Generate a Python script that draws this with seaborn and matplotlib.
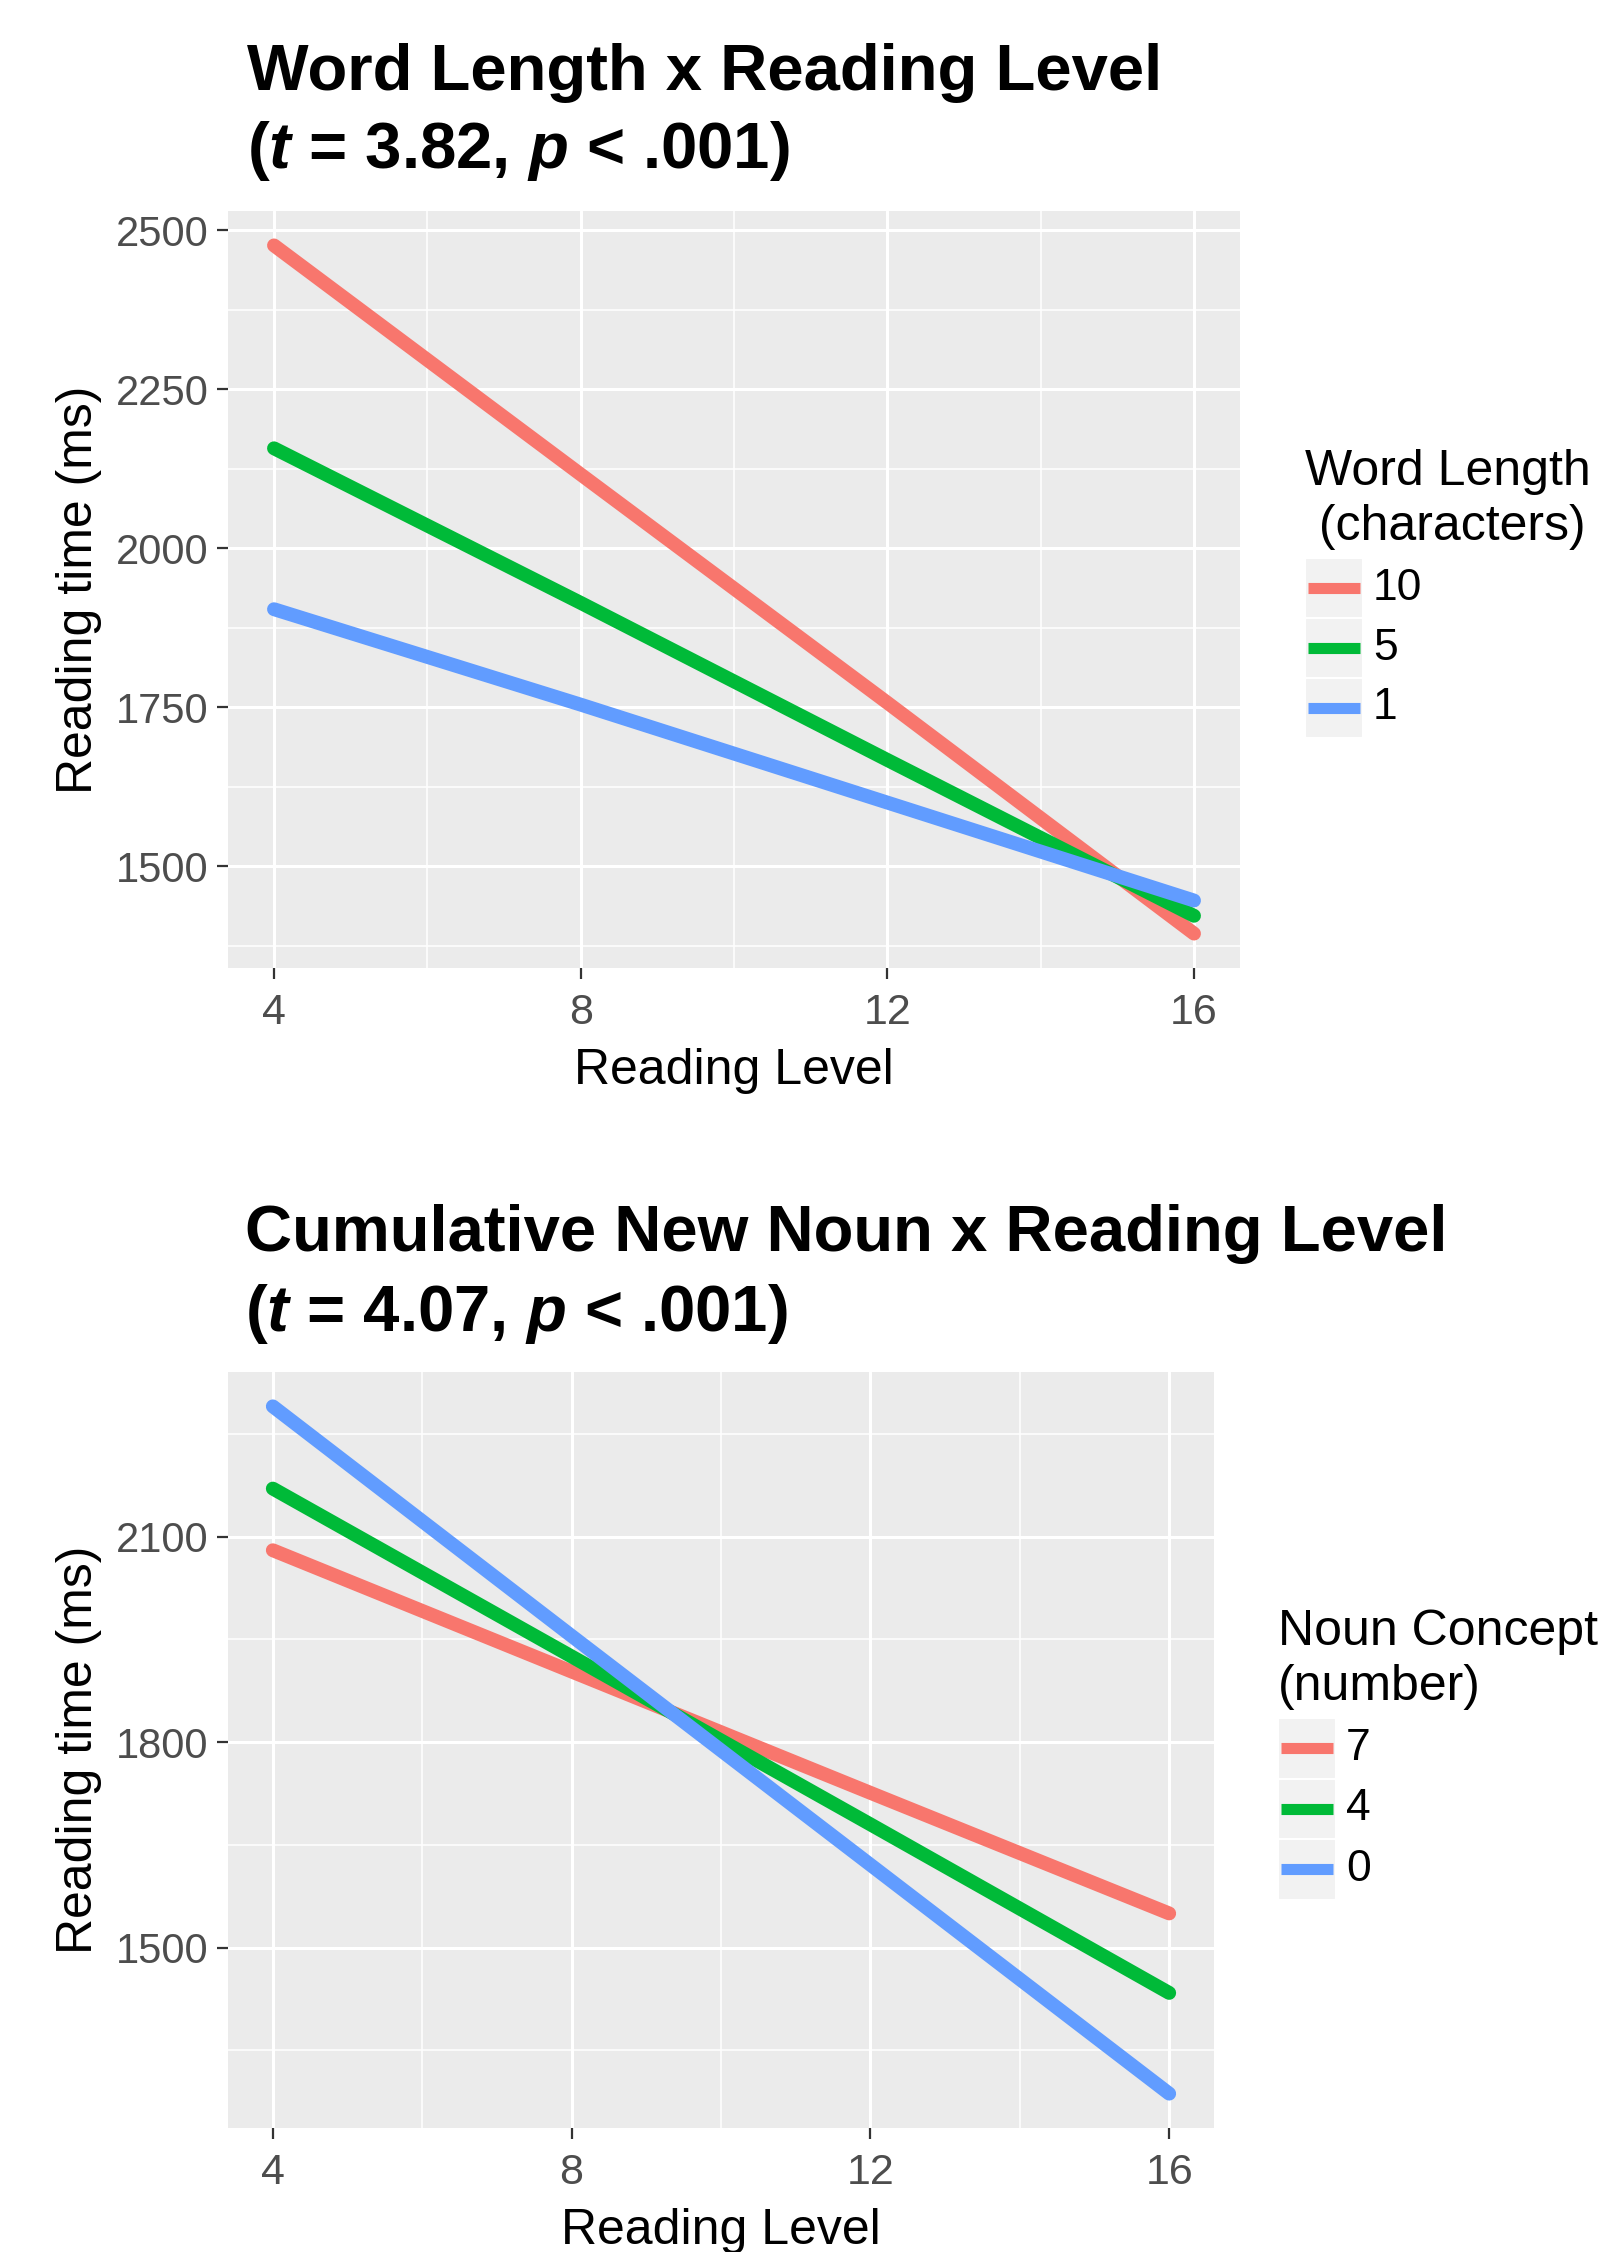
import pandas as pd
import numpy as np
import matplotlib
matplotlib.use('Agg')
import matplotlib.pyplot as plt
import seaborn as sns
from matplotlib.ticker import MultipleLocator
from matplotlib.patches import Rectangle
from matplotlib.lines import Line2D

# values (reading time in ms at reading level 4, 8, 12, 16)
levels = [4, 8, 12, 16]

wl_groups = ['10', '5', '1']
wl_10 = [2476, 2116, 1757, 1394]
wl_5 = [2157, 1914, 1667, 1422]
wl_1 = [1904, 1754, 1600, 1446]

nc_groups = ['7', '4', '0']
nc_7 = [2080, 1903, 1726, 1550]
nc_4 = [2170, 1925, 1680, 1434]
nc_0 = [2290, 1955, 1621, 1287]

colors = ['#F8766D', '#00BA38', '#619CFF']

W, H = 1612, 2252

sns.set_style('darkgrid', {'axes.facecolor': '#EBEBEB', 'grid.color': 'white',
                           'text.color': 'black', 'axes.labelcolor': 'black'})
plt.rcParams['font.family'] = ['Liberation Sans', 'DejaVu Sans']
plt.rcParams['mathtext.fontset'] = 'custom'
plt.rcParams['mathtext.it'] = 'Liberation Sans:italic:bold'
plt.rcParams['mathtext.rm'] = 'Liberation Sans:bold'

fig = plt.figure(figsize=(W / 100, H / 100), dpi=100)


def fx(px):
    return px / W


def fy(py):
    return 1 - py / H


def make_df(groups, series):
    rows = []
    for g, vals in zip(groups, series):
        for lv, v in zip(levels, vals):
            rows.append({'level': lv, 'rt': v, 'group': g})
    return pd.DataFrame(rows)


def panel(box, df, groups, ymaj, title1, title2, tx, tb1, tb2):
    l, t, r, b = box
    ax = fig.add_axes([fx(l), fy(b), fx(r - l), (b - t) / H])
    sns.lineplot(data=df, x='level', y='rt', hue='group', hue_order=groups,
                 palette=colors, linewidth=10, legend=False, ax=ax)
    lo, hi = df['rt'].min(), df['rt'].max()
    pad = (hi - lo) * 0.05
    ax.set_ylim(lo - pad, hi + pad)
    ax.set_xlim(3.4, 16.6)
    ax.xaxis.set_major_locator(MultipleLocator(4))
    ax.xaxis.set_minor_locator(MultipleLocator(2))
    ax.yaxis.set_major_locator(MultipleLocator(ymaj))
    ax.yaxis.set_minor_locator(MultipleLocator(ymaj / 2))
    ax.grid(which='major', color='white', linewidth=2.2)
    ax.grid(which='minor', color='white', linewidth=1.1)
    ax.tick_params(which='major', length=8, width=1.6, color='#333333',
                   labelsize=30, labelcolor='#4D4D4D', pad=6, bottom=True, left=True)
    ax.tick_params(axis='x', which='major', pad=10, labelsize=31)
    ax.tick_params(which='minor', length=0)
    for s in ax.spines.values():
        s.set_visible(False)
    ax.set_xlabel('Reading Level', fontsize=36, color='black')
    ax.set_ylabel('Reading time (ms)', fontsize=36, color='black')
    ax.xaxis.set_label_coords(0.5, -80 / (b - t))
    ax.yaxis.set_label_coords(-(226 - 100) / (r - l), 0.5)
    fig.text(fx(tx), fy(tb1), title1, fontsize=47, fontweight='bold', va='baseline', color='black')
    fig.text(fx(tx), fy(tb2), title2, fontsize=47, fontweight='bold', va='baseline', color='black')
    return ax


def legend(x, base1, base2, line1, line2, key_top, key_h, labels):
    fig.text(fx(x), fy(base1), line1, fontsize=36, va='baseline', color='black')
    fig.text(fx(x), fy(base2), line2, fontsize=36, va='baseline', color='black')
    for i, (lab, c) in enumerate(zip(labels, colors)):
        top = key_top + i * key_h
        fig.patches.append(Rectangle((fx(x), fy(top + key_h)), 58 / W, key_h / H,
                                     transform=fig.transFigure, facecolor='#F2F2F2',
                                     edgecolor='white', linewidth=1.5))
        cy = fy(top + key_h / 2)
        fig.lines.append(Line2D([fx(x + 3), fx(x + 55)], [cy, cy], color=c,
                                linewidth=8, transform=fig.transFigure,
                                solid_capstyle='butt'))
        fig.text(fx(x + 68), cy, lab, fontsize=32, va='center', color='black')


df1 = make_df(wl_groups, [wl_10, wl_5, wl_1])
df2 = make_df(nc_groups, [nc_7, nc_4, nc_0])

panel((228, 211, 1240, 968), df1, wl_groups, 250,
      'Word Length x Reading Level', r'($t$ = 3.82, $p$ < .001)', 247, 90, 168)
panel((228, 1372, 1214, 2128), df2, nc_groups, 300,
      'Cumulative New Noun x Reading Level', r'($t$ = 4.07, $p$ < .001)', 245, 1251, 1331)

legend(1305, 485, 540, 'Word Length', ' (characters)', 558, 60, wl_groups)
legend(1278, 1645, 1700, 'Noun Concept', '(number)', 1718, 60.5, nc_groups)

fig.savefig('out.png', dpi=100)
